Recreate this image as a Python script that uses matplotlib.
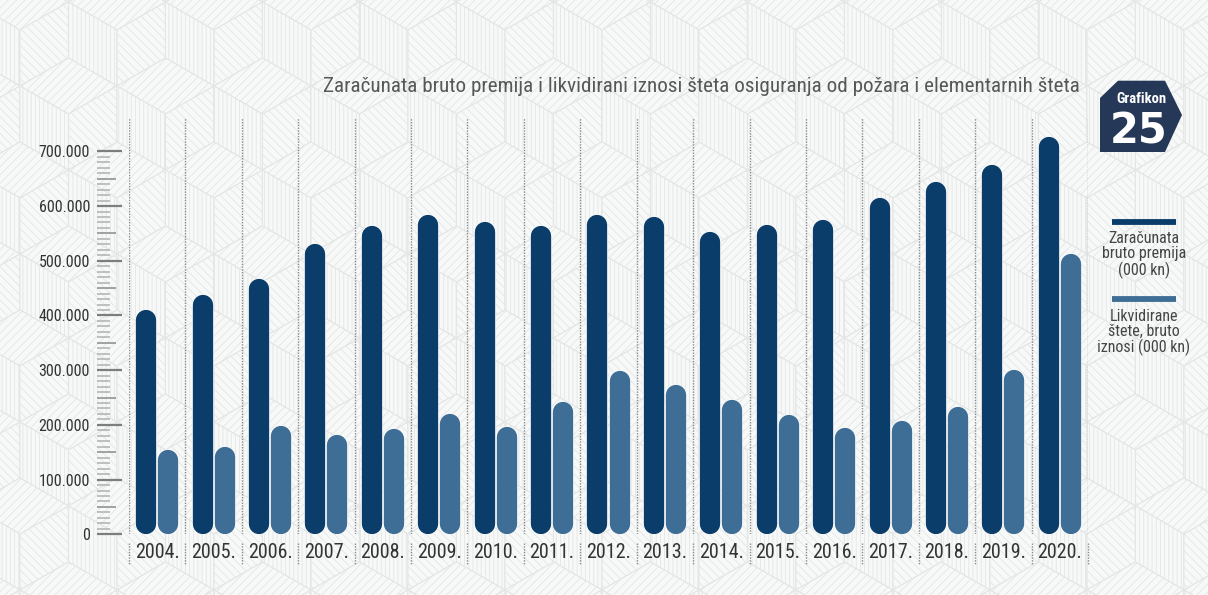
import numpy as np
import matplotlib
matplotlib.use('Agg')
import matplotlib.pyplot as plt
from matplotlib.patches import Polygon

# ---------------- data ----------------
years = ['2004.', '2005.', '2006.', '2007.', '2008.', '2009.', '2010.', '2011.', '2012.',
         '2013.', '2014.', '2015.', '2016.', '2017.', '2018.', '2019.', '2020.']
premium = [410000, 438000, 467000, 531000, 563000, 583000, 572000, 564000, 584000,
           581000, 553000, 565000, 575000, 615000, 644000, 676000, 727000]
claims = [155000, 160000, 198000, 182000, 192500, 221000, 196000, 243000, 298500,
          273000, 245000, 218000, 194000, 206500, 233000, 300000, 512000]
ytick_values = [0, 100000, 200000, 300000, 400000, 500000, 600000, 700000]
ytick_labels = ['0', '100.000', '200.000', '300.000', '400.000', '500.000', '600.000', '700.000']
series_labels = ['Zaračunata\nbruto premija\n(000 kn)', 'Likvidirane\nštete, bruto\niznosi (000 kn)']
title = 'Zaračunata bruto premija i likvidirani iznosi šteta osiguranja od požara i elementarnih šteta'
badge_top = 'Grafikon'
badge_num = '25'

# ---------------- style ----------------
FONT = ['Roboto Condensed', 'Liberation Sans Narrow', 'DejaVu Sans Condensed', 'DejaVu Sans']
plt.rcParams['font.family'] = FONT
plt.rcParams['hatch.linewidth'] = 0.6
DARK = '#0a3d6a'
LIGHT = '#3e6d95'
BADGE = '#263858'
TXT = '#333333'

W, H = 1208, 595
fig = plt.figure(figsize=(W / 100, H / 100), dpi=100)
fig.patch.set_facecolor('#f6f7f7')

# ---------------- decorative background (cube pattern) ----------------
bg = fig.add_axes([0, 0, 1, 1], zorder=-10)
bg.set_xlim(0, W)
bg.set_ylim(H, 0)
bg.axis('off')
r = 56.0
dx = np.sqrt(3) * r
dy = 1.5 * r


def v(cx, cy, ang):
    a = np.deg2rad(ang)
    return (cx + r * np.cos(a), cy - r * np.sin(a))


for j in range(-1, int(H / dy) + 2):
    for i in range(-1, int(W / dx) + 2):
        cx = i * dx + (j % 2) * dx / 2 + 20
        cy = j * dy + 30
        faces = [
            ([(cx, cy), v(cx, cy, 30), v(cx, cy, 90), v(cx, cy, 150)], '////'),
            ([(cx, cy), v(cx, cy, 150), v(cx, cy, 210), v(cx, cy, 270)], '||||'),
            ([(cx, cy), v(cx, cy, 270), v(cx, cy, 330), v(cx, cy, 30)], '\\\\\\\\'),
        ]
        for pts, hatch in faces:
            bg.add_patch(Polygon(pts, closed=True, facecolor='#f7f8f8',
                                 edgecolor='#e4e6e6', linewidth=0.8, hatch=hatch))

# ---------------- main axes ----------------
x0_px, x1_px = 129, 1088
ytop_px, y0_px = 118, 534.3
px_per_unit = 54.71 / 100000
ymax = (y0_px - ytop_px) / px_per_unit
ax = fig.add_axes([x0_px / W, (H - y0_px) / H, (x1_px - x0_px) / W, (y0_px - ytop_px) / H])
ax.set_facecolor('none')
ax.set_xlim(-0.5, len(years) - 0.5)
ax.set_ylim(0, ymax)
for s in ax.spines.values():
    s.set_visible(False)
ax.set_xticks([])
ax.set_yticks(ytick_values)
ax.set_yticklabels(ytick_labels, fontsize=11.5, color=TXT)
ax.tick_params(axis='y', length=0, pad=28)

# y tick marks (left of the plot)
ytr = ax.get_yaxis_transform()
minor = np.arange(0, 700001, 10000)
span = x1_px - x0_px
left = (97 - x0_px) / span
for val in minor:
    if val % 100000 == 0:
        right, col, lw = (122.3 - x0_px) / span, '#7d7d7d', 1.6
    elif val % 50000 == 0:
        right, col, lw = (115.7 - x0_px) / span, '#9a9a9a', 1.3
    else:
        right, col, lw = (110 - x0_px) / span, '#b0b0b0', 1.1
    ax.plot([left, right], [val, val], color=col, lw=lw, transform=ytr, clip_on=False,
            solid_capstyle='butt')

# dotted separators
xs = np.arange(len(years) + 1) - 0.5
ax.vlines(xs, 0, ymax, colors='#8a8a8a', linestyles=(0, (1, 1)), linewidth=1.0, zorder=1)
xtr = ax.get_xaxis_transform()
plot_h = y0_px - ytop_px
ax.vlines(xs, -(543 - y0_px) / plot_h, -(564 - y0_px) / plot_h,
          colors='#8a8a8a', linestyles=(0, (1, 1)), linewidth=1.0, transform=xtr, clip_on=False)
lab_y = -(553 - y0_px) / plot_h
for i, yr in enumerate(years):
    ax.text(i, lab_y, yr, transform=xtr, ha='center', va='center', fontsize=14.5, color=TXT)

# rounded bars: bar geometry from ax.bar, drawn as round-capped strokes
x = np.arange(len(years))
bw = 0.36
off = 0.195
b1 = ax.bar(x - off, premium, width=bw, color=DARK)
b2 = ax.bar(x + off, claims, width=bw, color=LIGHT)
p0 = ax.transData.transform((0, 0))
p1 = ax.transData.transform((1, 100000))
ppx = p1[0] - p0[0]
ppy = (p1[1] - p0[1]) / 100000
for bars in (b1, b2):
    for rect in bars:
        rect.set_visible(False)
        w_px = rect.get_width() * ppx
        lw_pt = w_px * 72 / fig.dpi
        rad = (w_px / 2) / ppy
        xc = rect.get_x() + rect.get_width() / 2
        y_lo = rect.get_y() + rad
        y_hi = rect.get_y() + rect.get_height() - rad
        ax.plot([xc, xc], [y_lo, y_hi], color='#ffffff', lw=lw_pt + 1.0,
                solid_capstyle='round', zorder=2.9, alpha=0.8)
        ax.plot([xc, xc], [y_lo, y_hi], color=rect.get_facecolor(), lw=lw_pt,
                solid_capstyle='round', zorder=3)

# ---------------- title ----------------
bg.text(1080, 87, title, ha='right', va='center', fontsize=15.2, color='#575757')

# ---------------- legend ----------------
for (yl, yt), col, lab in zip([(221.5, 255), (298.5, 332.5)], [DARK, LIGHT], series_labels):
    bg.plot([1112, 1176], [yl, yl], color=col, lw=4.2, solid_capstyle='butt')
    bg.text(1144, yt, lab, ha='center', va='center', fontsize=11.5, color='#454545',
            linespacing=1.0)

# ---------------- badge ----------------
badge = Polygon([(1100, 98), (1118, 80.7), (1165, 80.7), (1182, 115), (1165, 152), (1100, 152)],
                closed=True, facecolor=BADGE, edgecolor='none')
bg.add_patch(badge)
bg.text(1141, 99, badge_top, ha='center', va='center', fontsize=10.5, color='white',
        fontweight='bold')
bg.text(1139, 131, badge_num, ha='center', va='center', fontsize=30, color='white',
        fontweight='heavy', family=['DejaVu Sans'])

fig.savefig('out.png', dpi=100, facecolor=fig.get_facecolor())
